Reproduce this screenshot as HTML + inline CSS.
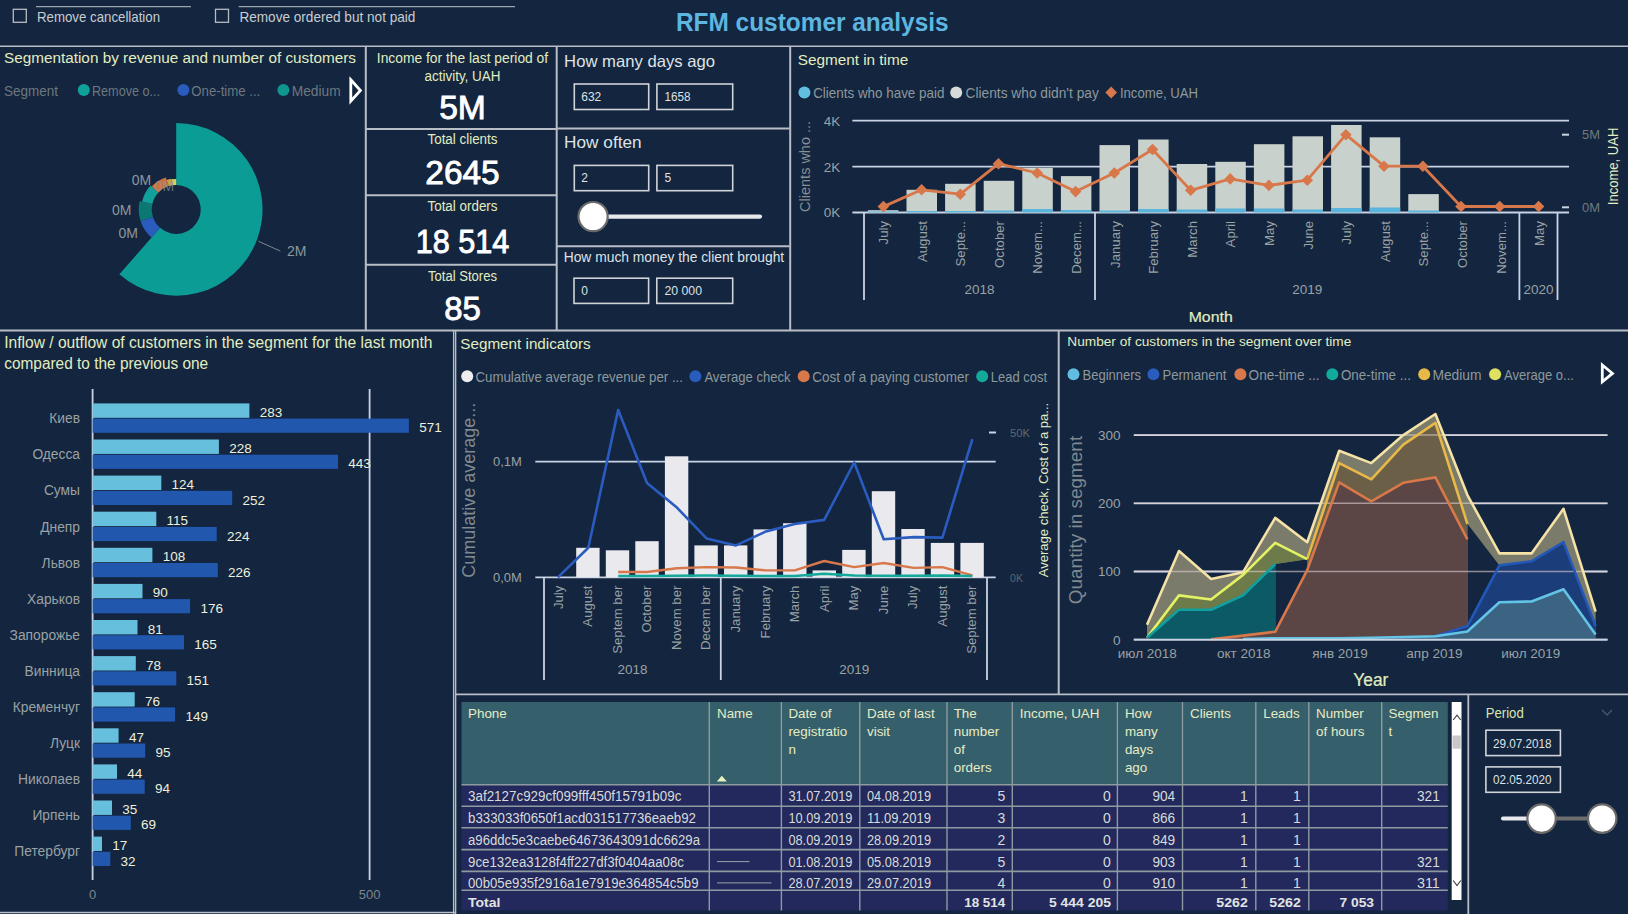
<!DOCTYPE html>
<html><head><meta charset="utf-8"><title>RFM customer analysis</title>
<style>
html,body{margin:0;padding:0;background:#13253f;}
body{width:1628px;height:914px;overflow:hidden;font-family:"Liberation Sans",sans-serif;}
svg{display:block;font-family:"Liberation Sans",sans-serif;}
</style></head><body>
<svg width="1628" height="914" viewBox="0 0 1628 914">
<rect width="1628" height="914" fill="#13253f"/>
<rect x="13.3" y="9.3" width="13.0" height="13.0" fill="none" stroke="#b8bcc2" stroke-width="1.3" /><line x1="36.0" y1="6.6" x2="191.0" y2="6.6" stroke="#9aa2aa" stroke-width="1.3" /><text x="37.0" y="22.0" font-size="14.8" fill="#c9cdd0" text-anchor="start" textLength="123.0" lengthAdjust="spacingAndGlyphs" >Remove cancellation</text><rect x="215.5" y="9.3" width="13.0" height="13.0" fill="none" stroke="#b8bcc2" stroke-width="1.3" /><line x1="238.7" y1="6.6" x2="515.0" y2="6.6" stroke="#9aa2aa" stroke-width="1.3" /><text x="239.4" y="22.0" font-size="14.8" fill="#c9cdd0" text-anchor="start" textLength="176.0" lengthAdjust="spacingAndGlyphs" >Remove ordered but not paid</text><text x="812.3" y="31.4" font-size="25" fill="#5cb6e0" text-anchor="middle" font-weight="bold" textLength="272.7" lengthAdjust="spacingAndGlyphs" >RFM customer analysis</text><line x1="0.0" y1="46.2" x2="1628.0" y2="46.2" stroke="#b9bec6" stroke-width="1.5" /><line x1="365.8" y1="46.0" x2="365.8" y2="330.5" stroke="#b9bec6" stroke-width="2" /><line x1="556.7" y1="47.0" x2="556.7" y2="330.5" stroke="#b9bec6" stroke-width="2" /><line x1="366.0" y1="129.0" x2="556.7" y2="129.0" stroke="#b9bec6" stroke-width="2" /><line x1="366.0" y1="195.3" x2="556.7" y2="195.3" stroke="#b9bec6" stroke-width="2" /><line x1="366.0" y1="264.8" x2="556.7" y2="264.8" stroke="#b9bec6" stroke-width="2" /><line x1="556.7" y1="128.4" x2="789.6" y2="128.4" stroke="#b9bec6" stroke-width="2" /><line x1="556.7" y1="246.3" x2="789.6" y2="246.3" stroke="#b9bec6" stroke-width="2" /><line x1="790.2" y1="46.0" x2="790.2" y2="330.5" stroke="#b9bec6" stroke-width="2" /><line x1="0.0" y1="330.6" x2="1628.0" y2="330.6" stroke="#b9bec6" stroke-width="2" /><line x1="453.6" y1="330.6" x2="453.6" y2="914.0" stroke="#b9bec6" stroke-width="1.3" /><line x1="455.6" y1="330.6" x2="455.6" y2="914.0" stroke="#b9bec6" stroke-width="1.5" /><line x1="1058.7" y1="330.6" x2="1058.7" y2="694.3" stroke="#b9bec6" stroke-width="2" /><line x1="455.6" y1="694.3" x2="1628.0" y2="694.3" stroke="#b9bec6" stroke-width="1.8" /><line x1="1468.3" y1="694.3" x2="1468.3" y2="914.0" stroke="#b9bec6" stroke-width="1.8" /><line x1="0.0" y1="912.5" x2="455.0" y2="912.5" stroke="#b9bec6" stroke-width="1.5" /><text x="4.0" y="63.3" font-size="15.3" fill="#e2edc0" text-anchor="start" textLength="352.0" lengthAdjust="spacingAndGlyphs" >Segmentation by revenue and number of customers</text><text x="4.0" y="95.6" font-size="15" fill="#6e787e" text-anchor="start" textLength="54.0" lengthAdjust="spacingAndGlyphs" >Segment</text><circle cx="83.8" cy="90.0" r="6.0" fill="#10a29a" /><text x="92.0" y="95.6" font-size="15" fill="#6e787e" text-anchor="start" textLength="68.0" lengthAdjust="spacingAndGlyphs" >Remove o...</text><circle cx="183.4" cy="90.0" r="6.0" fill="#2a5cbe" /><text x="191.3" y="95.6" font-size="15" fill="#6e787e" text-anchor="start" textLength="69.0" lengthAdjust="spacingAndGlyphs" >One-time ...</text><circle cx="283.4" cy="90.0" r="6.0" fill="#10958e" /><text x="291.7" y="95.6" font-size="15" fill="#6e787e" text-anchor="start" textLength="49.0" lengthAdjust="spacingAndGlyphs" >Medium</text><polygon points="350.8,79.8 360.4,90.5 350.8,101.2" fill="none" stroke="#ffffff" stroke-width="2.8"/><path d="M176.20,123.10 A86.3,86.3 0 1 1 119.36,274.33 L160.06,227.83 A24.5,24.5 0 1 0 176.20,184.90 Z" fill="#0c9c96"/><path d="M151.50,237.62 A37.5,37.5 0 0 1 140.54,220.99 L152.90,216.97 A24.5,24.5 0 0 0 160.06,227.83 Z" fill="#2a5cbe"/><path d="M140.54,220.99 A37.5,37.5 0 0 1 139.66,200.96 L152.33,203.89 A24.5,24.5 0 0 0 152.90,216.97 Z" fill="#0b7874"/><path d="M142.10,201.53 A35,35 0 0 1 150.60,185.53 L158.28,192.69 A24.5,24.5 0 0 0 152.33,203.89 Z" fill="#10a29a"/><path d="M151.70,186.55 A33.5,33.5 0 0 1 165.85,177.54 L168.63,186.10 A24.5,24.5 0 0 0 158.28,192.69 Z" fill="#d0703e"/><path d="M166.62,179.92 A31,31 0 0 1 171.35,178.78 L172.37,185.20 A24.5,24.5 0 0 0 168.63,186.10 Z" fill="#c8a050"/><path d="M171.43,179.28 A30.5,30.5 0 0 1 176.20,178.90 L176.20,184.90 A24.5,24.5 0 0 0 172.37,185.20 Z" fill="#d8d060"/><text x="141.4" y="185.0" font-size="14" fill="#8e979c" text-anchor="middle" >0M</text><text x="164.5" y="190.5" font-size="14" fill="#8e979c" text-anchor="middle" opacity="0.7">0M</text><text x="121.7" y="214.6" font-size="14" fill="#8e979c" text-anchor="middle" >0M</text><text x="128.3" y="237.5" font-size="14" fill="#8e979c" text-anchor="middle" >0M</text><line x1="258.5" y1="241.3" x2="280.4" y2="251.1" stroke="#7e878c" stroke-width="1" /><text x="296.8" y="256.1" font-size="14" fill="#8e979c" text-anchor="middle" >2M</text><text x="462.5" y="62.5" font-size="13.8" fill="#e2edc0" text-anchor="middle" textLength="171.3" lengthAdjust="spacingAndGlyphs" >Income for the last period of</text><text x="462.5" y="81.3" font-size="13.8" fill="#e2edc0" text-anchor="middle" textLength="76.0" lengthAdjust="spacingAndGlyphs" >activity, UAH</text><text x="462.5" y="118.8" font-size="34" fill="#ffffff" text-anchor="middle" textLength="46.7" lengthAdjust="spacingAndGlyphs" stroke="#ffffff" stroke-width="0.9">5M</text><text x="462.5" y="144.4" font-size="13.8" fill="#e2edc0" text-anchor="middle" textLength="70.0" lengthAdjust="spacingAndGlyphs" >Total clients</text><text x="462.5" y="183.6" font-size="34" fill="#ffffff" text-anchor="middle" textLength="74.4" lengthAdjust="spacingAndGlyphs" stroke="#ffffff" stroke-width="0.9">2645</text><text x="462.5" y="211.0" font-size="13.8" fill="#e2edc0" text-anchor="middle" textLength="70.0" lengthAdjust="spacingAndGlyphs" >Total orders</text><text x="462.5" y="252.8" font-size="34" fill="#ffffff" text-anchor="middle" textLength="93.6" lengthAdjust="spacingAndGlyphs" stroke="#ffffff" stroke-width="0.9">18 514</text><text x="462.5" y="281.4" font-size="13.8" fill="#e2edc0" text-anchor="middle" textLength="69.0" lengthAdjust="spacingAndGlyphs" >Total Stores</text><text x="462.5" y="320.3" font-size="34" fill="#ffffff" text-anchor="middle" textLength="36.6" lengthAdjust="spacingAndGlyphs" stroke="#ffffff" stroke-width="0.9">85</text><text x="564.1" y="66.9" font-size="16.5" fill="#dfe3e6" text-anchor="start" textLength="151.0" lengthAdjust="spacingAndGlyphs" >How many days ago</text><rect x="574.3" y="84.0" width="74.4" height="25.5" fill="none" stroke="#d0d4d8" stroke-width="1.6" /><rect x="656.9" y="84.0" width="75.8" height="25.5" fill="none" stroke="#d0d4d8" stroke-width="1.6" /><text x="581.3" y="101.3" font-size="12" fill="#dfe3e6" text-anchor="start" textLength="20.0" lengthAdjust="spacingAndGlyphs" >632</text><text x="664.5" y="101.3" font-size="12" fill="#dfe3e6" text-anchor="start" textLength="26.0" lengthAdjust="spacingAndGlyphs" >1658</text><text x="564.1" y="148.3" font-size="16.5" fill="#dfe3e6" text-anchor="start" textLength="77.5" lengthAdjust="spacingAndGlyphs" >How often</text><rect x="574.3" y="165.4" width="74.4" height="25.3" fill="none" stroke="#d0d4d8" stroke-width="1.6" /><rect x="656.9" y="165.4" width="75.8" height="25.3" fill="none" stroke="#d0d4d8" stroke-width="1.6" /><text x="581.3" y="182.3" font-size="12" fill="#dfe3e6" text-anchor="start" >2</text><text x="664.5" y="182.3" font-size="12" fill="#dfe3e6" text-anchor="start" >5</text><line x1="600" y1="216.6" x2="760" y2="216.6" stroke="#e6e8ec" stroke-width="4.2" stroke-linecap="round"/><circle cx="593.1" cy="216.6" r="14.6" fill="#ffffff" stroke="#6a6a6a" stroke-width="2.2"/><text x="563.7" y="262.4" font-size="14" fill="#dfe3e6" text-anchor="start" textLength="220.5" lengthAdjust="spacingAndGlyphs" >How much money the client brought</text><rect x="574.0" y="278.2" width="74.6" height="25.2" fill="none" stroke="#d0d4d8" stroke-width="1.6" /><rect x="656.8" y="278.2" width="75.9" height="25.2" fill="none" stroke="#d0d4d8" stroke-width="1.6" /><text x="581.3" y="295.3" font-size="12" fill="#dfe3e6" text-anchor="start" >0</text><text x="664.5" y="295.3" font-size="12" fill="#dfe3e6" text-anchor="start" textLength="37.5" lengthAdjust="spacingAndGlyphs" >20 000</text><text x="797.7" y="65.1" font-size="15.3" fill="#e2edc0" text-anchor="start" textLength="110.6" lengthAdjust="spacingAndGlyphs" >Segment in time</text><circle cx="804.4" cy="92.5" r="6.0" fill="#62bde0" /><text x="813.2" y="97.8" font-size="14.8" fill="#8e999c" text-anchor="start" textLength="131.2" lengthAdjust="spacingAndGlyphs" >Clients who have paid</text><circle cx="956.2" cy="92.5" r="6.0" fill="#d6dad8" /><text x="965.5" y="97.8" font-size="14.8" fill="#8e999c" text-anchor="start" textLength="133.3" lengthAdjust="spacingAndGlyphs" >Clients who didn't pay</text><polygon points="1111.2,86.5 1117.0,92.5 1111.2,98.5 1105.4,92.5" fill="#d8784a" /><text x="1119.9" y="97.8" font-size="14.8" fill="#8e999c" text-anchor="start" textLength="78.2" lengthAdjust="spacingAndGlyphs" >Income, UAH</text><line x1="852.4" y1="120.6" x2="1569.0" y2="120.6" stroke="#c9d3e3" stroke-width="1.8" /><text x="840.3" y="125.5" font-size="13.5" fill="#9aa2a4" text-anchor="end" >4K</text><line x1="852.4" y1="166.6" x2="1569.0" y2="166.6" stroke="#c9d3e3" stroke-width="1.8" /><text x="840.3" y="171.5" font-size="13.5" fill="#9aa2a4" text-anchor="end" >2K</text><line x1="852.4" y1="212.5" x2="1569.0" y2="212.5" stroke="#c9d3e3" stroke-width="1.8" /><text x="840.3" y="217.4" font-size="13.5" fill="#9aa2a4" text-anchor="end" >0K</text><text x="804.4" y="171.8" font-size="15" fill="#858f94" text-anchor="middle" textLength="91.0" lengthAdjust="spacingAndGlyphs" transform="rotate(-90 804.4 166.4)" >Clients who ...</text><rect x="867.9" y="210.2" width="30.5" height="2.3" fill="#c9d1cc" /><rect x="867.9" y="211.5" width="30.5" height="1.0" fill="#5ab4dc" /><rect x="906.5" y="189.8" width="30.5" height="22.7" fill="#c9d1cc" /><rect x="906.5" y="211.0" width="30.5" height="1.5" fill="#5ab4dc" /><rect x="945.1" y="183.8" width="30.5" height="28.7" fill="#c9d1cc" /><rect x="945.1" y="211.0" width="30.5" height="1.5" fill="#5ab4dc" /><rect x="983.7" y="180.8" width="30.5" height="31.7" fill="#c9d1cc" /><rect x="983.7" y="210.5" width="30.5" height="2.0" fill="#5ab4dc" /><rect x="1022.3" y="167.9" width="30.5" height="44.6" fill="#c9d1cc" /><rect x="1022.3" y="209.0" width="30.5" height="3.5" fill="#5ab4dc" /><rect x="1060.9" y="176.1" width="30.5" height="36.4" fill="#c9d1cc" /><rect x="1060.9" y="210.0" width="30.5" height="2.5" fill="#5ab4dc" /><rect x="1099.5" y="145.1" width="30.5" height="67.4" fill="#c9d1cc" /><rect x="1099.5" y="210.5" width="30.5" height="2.0" fill="#5ab4dc" /><rect x="1138.1" y="139.5" width="30.5" height="73.0" fill="#c9d1cc" /><rect x="1138.1" y="209.0" width="30.5" height="3.5" fill="#5ab4dc" /><rect x="1176.7" y="164.0" width="30.5" height="48.5" fill="#c9d1cc" /><rect x="1176.7" y="209.5" width="30.5" height="3.0" fill="#5ab4dc" /><rect x="1215.3" y="161.8" width="30.5" height="50.7" fill="#c9d1cc" /><rect x="1215.3" y="208.5" width="30.5" height="4.0" fill="#5ab4dc" /><rect x="1253.9" y="144.2" width="30.5" height="68.3" fill="#c9d1cc" /><rect x="1253.9" y="208.5" width="30.5" height="4.0" fill="#5ab4dc" /><rect x="1292.5" y="136.3" width="30.5" height="76.2" fill="#c9d1cc" /><rect x="1292.5" y="209.5" width="30.5" height="3.0" fill="#5ab4dc" /><rect x="1331.1" y="125.0" width="30.5" height="87.5" fill="#c9d1cc" /><rect x="1331.1" y="208.0" width="30.5" height="4.5" fill="#5ab4dc" /><rect x="1369.7" y="137.3" width="30.5" height="75.2" fill="#c9d1cc" /><rect x="1369.7" y="207.5" width="30.5" height="5.0" fill="#5ab4dc" /><rect x="1408.3" y="194.1" width="30.5" height="18.4" fill="#c9d1cc" /><rect x="1408.3" y="210.5" width="30.5" height="2.0" fill="#5ab4dc" /><polyline points="883.4,206.6 921.6,189.8 960.3,194.2 998.5,163.7 1037.2,173.0 1075.6,191.6 1114.3,173.0 1152.5,149.5 1190.7,190.3 1230.2,178.9 1268.9,185.4 1307.3,180.2 1345.9,134.7 1384.0,166.2 1422.9,166.2 1461.0,206.5 1499.7,206.5 1538.6,206.5" fill="none" stroke="#d8784a" stroke-width="2.8" stroke-linejoin="round" /><polygon points="883.4,200.8 889.2,206.6 883.4,212.4 877.6,206.6" fill="#d8784a" /><polygon points="921.6,184.0 927.4,189.8 921.6,195.6 915.8,189.8" fill="#d8784a" /><polygon points="960.3,188.4 966.1,194.2 960.3,200.0 954.5,194.2" fill="#d8784a" /><polygon points="998.5,157.9 1004.3,163.7 998.5,169.5 992.7,163.7" fill="#d8784a" /><polygon points="1037.2,167.2 1043.0,173.0 1037.2,178.8 1031.4,173.0" fill="#d8784a" /><polygon points="1075.6,185.8 1081.4,191.6 1075.6,197.4 1069.8,191.6" fill="#d8784a" /><polygon points="1114.3,167.2 1120.1,173.0 1114.3,178.8 1108.5,173.0" fill="#d8784a" /><polygon points="1152.5,143.7 1158.3,149.5 1152.5,155.3 1146.7,149.5" fill="#d8784a" /><polygon points="1190.7,184.5 1196.5,190.3 1190.7,196.1 1184.9,190.3" fill="#d8784a" /><polygon points="1230.2,173.1 1236.0,178.9 1230.2,184.7 1224.4,178.9" fill="#d8784a" /><polygon points="1268.9,179.6 1274.7,185.4 1268.9,191.2 1263.1,185.4" fill="#d8784a" /><polygon points="1307.3,174.4 1313.1,180.2 1307.3,186.0 1301.5,180.2" fill="#d8784a" /><polygon points="1345.9,128.9 1351.7,134.7 1345.9,140.5 1340.1,134.7" fill="#d8784a" /><polygon points="1384.0,160.4 1389.8,166.2 1384.0,172.0 1378.2,166.2" fill="#d8784a" /><polygon points="1422.9,160.4 1428.7,166.2 1422.9,172.0 1417.1,166.2" fill="#d8784a" /><polygon points="1461.0,200.7 1466.8,206.5 1461.0,212.3 1455.2,206.5" fill="#d8784a" /><polygon points="1499.7,200.7 1505.5,206.5 1499.7,212.3 1493.9,206.5" fill="#d8784a" /><polygon points="1538.6,200.7 1544.4,206.5 1538.6,212.3 1532.8,206.5" fill="#d8784a" /><line x1="1562.0" y1="134.7" x2="1569.0" y2="134.7" stroke="#c9d3e3" stroke-width="2" /><text x="1582.0" y="139.4" font-size="13" fill="#6f797e" text-anchor="start" textLength="18.0" lengthAdjust="spacingAndGlyphs" >5M</text><line x1="1562.0" y1="207.3" x2="1569.0" y2="207.3" stroke="#c9d3e3" stroke-width="2" /><text x="1582.0" y="212.0" font-size="13" fill="#6f797e" text-anchor="start" textLength="18.0" lengthAdjust="spacingAndGlyphs" >0M</text><text x="1612.7" y="171.6" font-size="14.5" fill="#e2edc0" text-anchor="middle" textLength="77.6" lengthAdjust="spacingAndGlyphs" transform="rotate(-90 1612.7 166.4)" >Income, UAH</text><line x1="864.0" y1="213.0" x2="864.0" y2="300.0" stroke="#c9d3e3" stroke-width="1.8" /><line x1="1095.0" y1="213.0" x2="1095.0" y2="300.0" stroke="#c9d3e3" stroke-width="1.8" /><line x1="1519.4" y1="213.0" x2="1519.4" y2="300.0" stroke="#c9d3e3" stroke-width="1.8" /><line x1="1557.5" y1="213.0" x2="1557.5" y2="300.0" stroke="#c9d3e3" stroke-width="1.8" /><text transform="translate(887.9 221) rotate(-90)" font-size="13.2" fill="#9aa2a4" text-anchor="end">July</text><text transform="translate(926.5 221) rotate(-90)" font-size="13.2" fill="#9aa2a4" text-anchor="end">August</text><text transform="translate(965.1 221) rotate(-90)" font-size="13.2" fill="#9aa2a4" text-anchor="end">Septe...</text><text transform="translate(1003.7 221) rotate(-90)" font-size="13.2" fill="#9aa2a4" text-anchor="end">October</text><text transform="translate(1042.3 221) rotate(-90)" font-size="13.2" fill="#9aa2a4" text-anchor="end">Novem...</text><text transform="translate(1080.9 221) rotate(-90)" font-size="13.2" fill="#9aa2a4" text-anchor="end">Decem...</text><text transform="translate(1119.5 221) rotate(-90)" font-size="13.2" fill="#9aa2a4" text-anchor="end">January</text><text transform="translate(1158.1 221) rotate(-90)" font-size="13.2" fill="#9aa2a4" text-anchor="end">February</text><text transform="translate(1196.7 221) rotate(-90)" font-size="13.2" fill="#9aa2a4" text-anchor="end">March</text><text transform="translate(1235.3 221) rotate(-90)" font-size="13.2" fill="#9aa2a4" text-anchor="end">April</text><text transform="translate(1273.9 221) rotate(-90)" font-size="13.2" fill="#9aa2a4" text-anchor="end">May</text><text transform="translate(1312.5 221) rotate(-90)" font-size="13.2" fill="#9aa2a4" text-anchor="end">June</text><text transform="translate(1351.1 221) rotate(-90)" font-size="13.2" fill="#9aa2a4" text-anchor="end">July</text><text transform="translate(1389.7 221) rotate(-90)" font-size="13.2" fill="#9aa2a4" text-anchor="end">August</text><text transform="translate(1428.3 221) rotate(-90)" font-size="13.2" fill="#9aa2a4" text-anchor="end">Septe...</text><text transform="translate(1466.9 221) rotate(-90)" font-size="13.2" fill="#9aa2a4" text-anchor="end">October</text><text transform="translate(1505.5 221) rotate(-90)" font-size="13.2" fill="#9aa2a4" text-anchor="end">Novem...</text><text transform="translate(1544.1 221) rotate(-90)" font-size="13.2" fill="#9aa2a4" text-anchor="end">May</text><text x="979.6" y="294.2" font-size="13.5" fill="#9aa2a4" text-anchor="middle" >2018</text><text x="1307.3" y="294.2" font-size="13.5" fill="#9aa2a4" text-anchor="middle" >2019</text><text x="1538.6" y="294.2" font-size="13.5" fill="#9aa2a4" text-anchor="middle" >2020</text><text x="1210.7" y="321.9" font-size="14.8" fill="#e2edc0" text-anchor="middle" textLength="44.0" lengthAdjust="spacingAndGlyphs" stroke="#e2edc0" stroke-width="0.2">Month</text><text x="4.2" y="348.4" font-size="15.6" fill="#e2edc0" text-anchor="start" textLength="428.3" lengthAdjust="spacingAndGlyphs" >Inflow / outflow of customers in the segment for the last month</text><text x="4.2" y="368.8" font-size="15.6" fill="#e2edc0" text-anchor="start" textLength="204.0" lengthAdjust="spacingAndGlyphs" >compared to the previous one</text><line x1="92.6" y1="389.0" x2="92.6" y2="880.0" stroke="#c9d3e3" stroke-width="1.8" /><line x1="369.6" y1="389.0" x2="369.6" y2="880.0" stroke="#c9d3e3" stroke-width="1.8" /><text x="92.6" y="898.7" font-size="13" fill="#7d868b" text-anchor="middle" >0</text><text x="369.6" y="898.7" font-size="13" fill="#7d868b" text-anchor="middle" >500</text><rect x="92.6" y="403.4" width="156.8" height="14.4" fill="#66bfdc" /><rect x="92.6" y="418.6" width="316.3" height="14.2" fill="#2257ae" /><text x="80.0" y="423.2" font-size="13.8" fill="#9aa2a4" text-anchor="end" >Киев</text><text x="259.7" y="416.9" font-size="13.5" fill="#eef0dc" text-anchor="start" >283</text><text x="419.2" y="432.3" font-size="13.5" fill="#eef0dc" text-anchor="start" >571</text><rect x="92.6" y="439.5" width="126.3" height="14.4" fill="#66bfdc" /><rect x="92.6" y="454.7" width="245.4" height="14.2" fill="#2257ae" /><text x="80.0" y="459.3" font-size="13.8" fill="#9aa2a4" text-anchor="end" >Одесса</text><text x="229.2" y="453.0" font-size="13.5" fill="#eef0dc" text-anchor="start" >228</text><text x="348.3" y="468.4" font-size="13.5" fill="#eef0dc" text-anchor="start" >443</text><rect x="92.6" y="475.6" width="68.7" height="14.4" fill="#66bfdc" /><rect x="92.6" y="490.8" width="139.6" height="14.2" fill="#2257ae" /><text x="80.0" y="495.4" font-size="13.8" fill="#9aa2a4" text-anchor="end" >Сумы</text><text x="171.6" y="489.1" font-size="13.5" fill="#eef0dc" text-anchor="start" >124</text><text x="242.5" y="504.5" font-size="13.5" fill="#eef0dc" text-anchor="start" >252</text><rect x="92.6" y="511.7" width="63.7" height="14.4" fill="#66bfdc" /><rect x="92.6" y="526.9" width="124.1" height="14.2" fill="#2257ae" /><text x="80.0" y="531.5" font-size="13.8" fill="#9aa2a4" text-anchor="end" >Днепр</text><text x="166.6" y="525.2" font-size="13.5" fill="#eef0dc" text-anchor="start" >115</text><text x="227.0" y="540.6" font-size="13.5" fill="#eef0dc" text-anchor="start" >224</text><rect x="92.6" y="547.8" width="59.8" height="14.4" fill="#66bfdc" /><rect x="92.6" y="563.0" width="125.2" height="14.2" fill="#2257ae" /><text x="80.0" y="567.6" font-size="13.8" fill="#9aa2a4" text-anchor="end" >Львов</text><text x="162.7" y="561.3" font-size="13.5" fill="#eef0dc" text-anchor="start" >108</text><text x="228.1" y="576.7" font-size="13.5" fill="#eef0dc" text-anchor="start" >226</text><rect x="92.6" y="583.9" width="49.9" height="14.4" fill="#66bfdc" /><rect x="92.6" y="599.1" width="97.5" height="14.2" fill="#2257ae" /><text x="80.0" y="603.7" font-size="13.8" fill="#9aa2a4" text-anchor="end" >Харьков</text><text x="152.8" y="597.4" font-size="13.5" fill="#eef0dc" text-anchor="start" >90</text><text x="200.4" y="612.8" font-size="13.5" fill="#eef0dc" text-anchor="start" >176</text><rect x="92.6" y="620.0" width="44.9" height="14.4" fill="#66bfdc" /><rect x="92.6" y="635.2" width="91.4" height="14.2" fill="#2257ae" /><text x="80.0" y="639.8" font-size="13.8" fill="#9aa2a4" text-anchor="end" >Запорожье</text><text x="147.8" y="633.5" font-size="13.5" fill="#eef0dc" text-anchor="start" >81</text><text x="194.3" y="648.9" font-size="13.5" fill="#eef0dc" text-anchor="start" >165</text><rect x="92.6" y="656.1" width="43.2" height="14.4" fill="#66bfdc" /><rect x="92.6" y="671.3" width="83.7" height="14.2" fill="#2257ae" /><text x="80.0" y="675.9" font-size="13.8" fill="#9aa2a4" text-anchor="end" >Винница</text><text x="146.1" y="669.6" font-size="13.5" fill="#eef0dc" text-anchor="start" >78</text><text x="186.6" y="685.0" font-size="13.5" fill="#eef0dc" text-anchor="start" >151</text><rect x="92.6" y="692.2" width="42.1" height="14.4" fill="#66bfdc" /><rect x="92.6" y="707.4" width="82.5" height="14.2" fill="#2257ae" /><text x="80.0" y="712.0" font-size="13.8" fill="#9aa2a4" text-anchor="end" >Кременчуг</text><text x="145.0" y="705.7" font-size="13.5" fill="#eef0dc" text-anchor="start" >76</text><text x="185.4" y="721.1" font-size="13.5" fill="#eef0dc" text-anchor="start" >149</text><rect x="92.6" y="728.3" width="26.0" height="14.4" fill="#66bfdc" /><rect x="92.6" y="743.5" width="52.6" height="14.2" fill="#2257ae" /><text x="80.0" y="748.1" font-size="13.8" fill="#9aa2a4" text-anchor="end" >Луцк</text><text x="128.9" y="741.8" font-size="13.5" fill="#eef0dc" text-anchor="start" >47</text><text x="155.5" y="757.2" font-size="13.5" fill="#eef0dc" text-anchor="start" >95</text><rect x="92.6" y="764.4" width="24.4" height="14.4" fill="#66bfdc" /><rect x="92.6" y="779.6" width="52.1" height="14.2" fill="#2257ae" /><text x="80.0" y="784.2" font-size="13.8" fill="#9aa2a4" text-anchor="end" >Николаев</text><text x="127.3" y="777.9" font-size="13.5" fill="#eef0dc" text-anchor="start" >44</text><text x="155.0" y="793.3" font-size="13.5" fill="#eef0dc" text-anchor="start" >94</text><rect x="92.6" y="800.5" width="19.4" height="14.4" fill="#66bfdc" /><rect x="92.6" y="815.7" width="38.2" height="14.2" fill="#2257ae" /><text x="80.0" y="820.3" font-size="13.8" fill="#9aa2a4" text-anchor="end" >Ирпень</text><text x="122.3" y="814.0" font-size="13.5" fill="#eef0dc" text-anchor="start" >35</text><text x="141.1" y="829.4" font-size="13.5" fill="#eef0dc" text-anchor="start" >69</text><rect x="92.6" y="836.6" width="9.4" height="14.4" fill="#66bfdc" /><rect x="92.6" y="851.8" width="17.7" height="14.2" fill="#2257ae" /><text x="80.0" y="856.4" font-size="13.8" fill="#9aa2a4" text-anchor="end" >Петербург</text><text x="112.3" y="850.1" font-size="13.5" fill="#eef0dc" text-anchor="start" >17</text><text x="120.6" y="865.5" font-size="13.5" fill="#eef0dc" text-anchor="start" >32</text><text x="460.3" y="349.0" font-size="15.2" fill="#e2edc0" text-anchor="start" textLength="130.4" lengthAdjust="spacingAndGlyphs" >Segment indicators</text><circle cx="467.2" cy="376.3" r="6.0" fill="#eeeeee" /><text x="475.4" y="381.6" font-size="14.8" fill="#8e999c" text-anchor="start" textLength="207.6" lengthAdjust="spacingAndGlyphs" >Cumulative average revenue per ...</text><circle cx="695.4" cy="376.3" r="6.0" fill="#2a5cbe" /><text x="704.4" y="381.6" font-size="14.8" fill="#8e999c" text-anchor="start" textLength="86.2" lengthAdjust="spacingAndGlyphs" >Average check</text><circle cx="803.7" cy="376.3" r="6.0" fill="#d8784a" /><text x="812.3" y="381.6" font-size="14.8" fill="#8e999c" text-anchor="start" textLength="156.7" lengthAdjust="spacingAndGlyphs" >Cost of a paying customer</text><circle cx="982.2" cy="376.3" r="6.0" fill="#12a89a" /><text x="990.8" y="381.6" font-size="14.8" fill="#8e999c" text-anchor="start" textLength="56.2" lengthAdjust="spacingAndGlyphs" >Lead cost</text><line x1="535.3" y1="461.6" x2="995.7" y2="461.6" stroke="#c9d3e3" stroke-width="1.8" /><text x="521.8" y="466.3" font-size="13" fill="#9aa2a4" text-anchor="end" textLength="28.8" lengthAdjust="spacingAndGlyphs" >0,1M</text><line x1="535.3" y1="577.4" x2="995.7" y2="577.4" stroke="#c9d3e3" stroke-width="1.8" /><text x="521.8" y="582.1" font-size="13" fill="#9aa2a4" text-anchor="end" textLength="28.8" lengthAdjust="spacingAndGlyphs" >0,0M</text><text x="469.0" y="496.8" font-size="18" fill="#7f898e" text-anchor="middle" textLength="175.0" lengthAdjust="spacingAndGlyphs" transform="rotate(-90 469.0 490.3)" >Cumulative average...</text><text x="1043.0" y="494.7" font-size="13" fill="#e2edc0" text-anchor="middle" textLength="174.4" lengthAdjust="spacingAndGlyphs" transform="rotate(-90 1043.0 490.0)" >Average check, Cost of a pa...</text><line x1="989.0" y1="432.5" x2="996.0" y2="432.5" stroke="#c9d3e3" stroke-width="2" /><text x="1010.0" y="436.6" font-size="11.5" fill="#5f696e" text-anchor="start" textLength="20.0" lengthAdjust="spacingAndGlyphs" >50K</text><text x="1010.0" y="582.1" font-size="11.5" fill="#5f696e" text-anchor="start" textLength="13.0" lengthAdjust="spacingAndGlyphs" >0K</text><rect x="576.2" y="547.8" width="23.4" height="29.6" fill="#e9e9ee" /><rect x="605.8" y="550.3" width="23.4" height="27.1" fill="#e9e9ee" /><rect x="635.3" y="541.2" width="23.4" height="36.2" fill="#e9e9ee" /><rect x="664.9" y="456.3" width="23.4" height="121.1" fill="#e9e9ee" /><rect x="694.4" y="545.4" width="23.4" height="32.0" fill="#e9e9ee" /><rect x="724.0" y="545.4" width="23.4" height="32.0" fill="#e9e9ee" /><rect x="753.5" y="529.4" width="23.4" height="48.0" fill="#e9e9ee" /><rect x="783.1" y="523.2" width="23.4" height="54.2" fill="#e9e9ee" /><rect x="812.6" y="570.4" width="23.4" height="7.0" fill="#e9e9ee" /><rect x="842.2" y="549.9" width="23.4" height="27.5" fill="#e9e9ee" /><rect x="871.8" y="491.2" width="23.4" height="86.2" fill="#e9e9ee" /><rect x="901.3" y="529.0" width="23.4" height="48.4" fill="#e9e9ee" /><rect x="930.8" y="542.9" width="23.4" height="34.5" fill="#e9e9ee" /><rect x="960.4" y="542.9" width="23.4" height="34.5" fill="#e9e9ee" /><polyline points="557.9,577.4 588.3,547.8 618.2,409.9 647.0,483.0 676.9,507.6 706.5,538.4 736.0,545.4 766.0,531.4 794.7,524.0 824.2,519.9 854.2,462.5 883.7,539.2 913.7,537.1 942.4,537.6 972.4,439.1" fill="none" stroke="#2a5cc0" stroke-width="2.6" stroke-linejoin="round" /><polyline points="618.2,572.0 647.0,572.0 676.9,568.3 706.5,567.1 736.0,567.5 766.0,570.4 794.7,570.4 824.2,561.0 854.2,567.1 883.7,563.0 913.7,567.9 942.4,567.1 972.4,575.3" fill="none" stroke="#d8784a" stroke-width="2.4" stroke-linejoin="round" /><polyline points="618.2,576.0 647.0,576.0 676.9,575.8 706.5,575.5 736.0,575.8 766.0,576.0 794.7,576.0 824.2,573.8 854.2,575.5 883.7,575.8 913.7,575.8 942.4,575.5 972.4,576.0" fill="none" stroke="#12a89a" stroke-width="2.4" stroke-linejoin="round" /><line x1="544.0" y1="578.0" x2="544.0" y2="680.0" stroke="#c9d3e3" stroke-width="1.8" /><line x1="720.8" y1="578.0" x2="720.8" y2="680.0" stroke="#c9d3e3" stroke-width="1.8" /><line x1="987.0" y1="578.0" x2="987.0" y2="680.0" stroke="#c9d3e3" stroke-width="1.8" /><text transform="translate(562.7 585.6) rotate(-90)" font-size="13.2" fill="#9aa2a4" text-anchor="end">July</text><text transform="translate(592.2 585.6) rotate(-90)" font-size="13.2" fill="#9aa2a4" text-anchor="end">August</text><text transform="translate(621.8 585.6) rotate(-90)" font-size="13.2" fill="#9aa2a4" text-anchor="end">Septem ber</text><text transform="translate(651.3 585.6) rotate(-90)" font-size="13.2" fill="#9aa2a4" text-anchor="end">October</text><text transform="translate(680.9 585.6) rotate(-90)" font-size="13.2" fill="#9aa2a4" text-anchor="end">Novem ber</text><text transform="translate(710.4 585.6) rotate(-90)" font-size="13.2" fill="#9aa2a4" text-anchor="end">Decem ber</text><text transform="translate(740.0 585.6) rotate(-90)" font-size="13.2" fill="#9aa2a4" text-anchor="end">January</text><text transform="translate(769.5 585.6) rotate(-90)" font-size="13.2" fill="#9aa2a4" text-anchor="end">February</text><text transform="translate(799.1 585.6) rotate(-90)" font-size="13.2" fill="#9aa2a4" text-anchor="end">March</text><text transform="translate(828.6 585.6) rotate(-90)" font-size="13.2" fill="#9aa2a4" text-anchor="end">April</text><text transform="translate(858.2 585.6) rotate(-90)" font-size="13.2" fill="#9aa2a4" text-anchor="end">May</text><text transform="translate(887.8 585.6) rotate(-90)" font-size="13.2" fill="#9aa2a4" text-anchor="end">June</text><text transform="translate(917.3 585.6) rotate(-90)" font-size="13.2" fill="#9aa2a4" text-anchor="end">July</text><text transform="translate(946.8 585.6) rotate(-90)" font-size="13.2" fill="#9aa2a4" text-anchor="end">August</text><text transform="translate(976.4 585.6) rotate(-90)" font-size="13.2" fill="#9aa2a4" text-anchor="end">Septem ber</text><text x="632.6" y="673.9" font-size="13.5" fill="#9aa2a4" text-anchor="middle" >2018</text><text x="854.2" y="673.9" font-size="13.5" fill="#9aa2a4" text-anchor="middle" >2019</text><text x="1067.3" y="346.3" font-size="13.7" fill="#e2edc0" text-anchor="start" textLength="284.0" lengthAdjust="spacingAndGlyphs" >Number of customers in the segment over time</text><circle cx="1073.5" cy="374.2" r="6.0" fill="#62bde0" /><text x="1082.5" y="379.5" font-size="14.8" fill="#8e999c" text-anchor="start" textLength="58.6" lengthAdjust="spacingAndGlyphs" >Beginners</text><circle cx="1153.4" cy="374.2" r="6.0" fill="#2a5cbe" /><text x="1162.5" y="379.5" font-size="14.8" fill="#8e999c" text-anchor="start" textLength="64.0" lengthAdjust="spacingAndGlyphs" >Permanent</text><circle cx="1240.4" cy="374.2" r="6.0" fill="#d8784a" /><text x="1248.6" y="379.5" font-size="14.8" fill="#8e999c" text-anchor="start" textLength="71.0" lengthAdjust="spacingAndGlyphs" >One-time ...</text><circle cx="1332.3" cy="374.2" r="6.0" fill="#12a89a" /><text x="1340.9" y="379.5" font-size="14.8" fill="#8e999c" text-anchor="start" textLength="70.0" lengthAdjust="spacingAndGlyphs" >One-time ...</text><circle cx="1424.2" cy="374.2" r="6.0" fill="#e8b848" /><text x="1432.4" y="379.5" font-size="14.8" fill="#8e999c" text-anchor="start" textLength="49.2" lengthAdjust="spacingAndGlyphs" >Medium</text><circle cx="1495.1" cy="374.2" r="6.0" fill="#e0e060" /><text x="1504.1" y="379.5" font-size="14.8" fill="#8e999c" text-anchor="start" textLength="69.8" lengthAdjust="spacingAndGlyphs" >Average o...</text><polygon points="1602.3,365 1612.5,373.4 1602.3,381.8" fill="none" stroke="#ffffff" stroke-width="2.8"/><line x1="1133.8" y1="435.1" x2="1607.5" y2="435.1" stroke="#c9d3e3" stroke-width="1.8" /><text x="1120.6" y="440.0" font-size="13.5" fill="#9aa2a4" text-anchor="end" >300</text><line x1="1133.8" y1="503.3" x2="1607.5" y2="503.3" stroke="#c9d3e3" stroke-width="1.8" /><text x="1120.6" y="508.2" font-size="13.5" fill="#9aa2a4" text-anchor="end" >200</text><line x1="1133.8" y1="571.5" x2="1607.5" y2="571.5" stroke="#c9d3e3" stroke-width="1.8" /><text x="1120.6" y="576.4" font-size="13.5" fill="#9aa2a4" text-anchor="end" >100</text><line x1="1133.8" y1="639.7" x2="1607.5" y2="639.7" stroke="#c9d3e3" stroke-width="1.8" /><text x="1120.6" y="644.6" font-size="13.5" fill="#9aa2a4" text-anchor="end" >0</text><text x="1075.5" y="526.5" font-size="18" fill="#7f898e" text-anchor="middle" textLength="168.3" lengthAdjust="spacingAndGlyphs" transform="rotate(-90 1075.5 520.0)" >Quantity in segment</text><text x="1147.3" y="658.0" font-size="13.5" fill="#9aa2a4" text-anchor="middle" >июл 2018</text><text x="1243.7" y="658.0" font-size="13.5" fill="#9aa2a4" text-anchor="middle" >окт 2018</text><text x="1340.0" y="658.0" font-size="13.5" fill="#9aa2a4" text-anchor="middle" >янв 2019</text><text x="1434.4" y="658.0" font-size="13.5" fill="#9aa2a4" text-anchor="middle" >апр 2019</text><text x="1530.8" y="658.0" font-size="13.5" fill="#9aa2a4" text-anchor="middle" >июл 2019</text><text x="1370.8" y="685.5" font-size="17.5" fill="#e2edc0" text-anchor="middle" textLength="35.0" lengthAdjust="spacingAndGlyphs" stroke="#e2edc0" stroke-width="0.2">Year</text><polygon points="1147.0,624.7 1179.0,551.0 1211.1,579.0 1243.1,572.2 1275.2,517.9 1307.2,542.2 1339.2,450.8 1371.3,463.1 1403.3,435.1 1435.4,414.0 1467.4,495.1 1499.4,553.4 1531.5,553.4 1563.5,508.8 1595.6,611.7 1595.6,639.7 1147.0,639.7" fill="#7a7b6b" /><polygon points="1275.2,564.0 1307.2,559.2 1307.2,639.7 1275.2,639.7" fill="#13253f" /><polygon points="1467.4,523.8 1499.4,565.4 1499.4,639.7 1467.4,639.7" fill="#13253f" /><polygon points="1307.2,559.2 1339.2,463.1 1371.3,479.4 1403.3,444.6 1435.4,422.8 1467.4,523.8 1467.4,639.7 1307.2,639.7" fill="#6b6047" /><polygon points="1147.0,637.7 1179.0,595.4 1211.1,599.5 1243.1,574.9 1275.2,542.9 1307.2,559.2 1275.2,564.0 1275.2,639.7 1147.0,639.7" fill="#6d7a4a" /><polygon points="1147.0,637.7 1179.0,609.7 1211.1,609.7 1243.1,595.4 1275.2,564.0 1275.2,639.7 1147.0,639.7" fill="#0c5a66" /><polygon points="1211.1,639.4 1243.1,635.6 1275.2,631.8 1307.2,570.1 1339.2,482.4 1371.3,501.3 1403.3,482.8 1435.4,477.4 1467.4,539.4 1467.4,639.7 1211.1,639.7" fill="#5b4545" /><polygon points="1435.4,636.3 1467.4,626.1 1499.4,565.4 1531.5,561.3 1563.5,542.2 1595.6,626.1 1595.6,639.7 1435.4,639.7" fill="#1b3d7a" /><polygon points="1243.1,639.0 1275.2,638.3 1307.2,638.3 1339.2,638.3 1371.3,637.7 1403.3,637.0 1435.4,636.3 1467.4,631.5 1499.4,602.2 1531.5,601.5 1563.5,589.2 1595.6,634.6 1595.6,639.7 1243.1,639.7" fill="#3a6482" /><line x1="1133.8" y1="435.1" x2="1607.5" y2="435.1" stroke="#e0d0d0" stroke-width="1.5" opacity="0.6"/><line x1="1133.8" y1="503.3" x2="1607.5" y2="503.3" stroke="#e0d0d0" stroke-width="1.5" opacity="0.6"/><line x1="1133.8" y1="571.5" x2="1607.5" y2="571.5" stroke="#e0d0d0" stroke-width="1.5" opacity="0.6"/><polyline points="1147.0,624.7 1179.0,551.0 1211.1,579.0 1243.1,572.2 1275.2,517.9 1307.2,542.2 1339.2,450.8 1371.3,463.1 1403.3,435.1 1435.4,414.0 1467.4,495.1 1499.4,553.4 1531.5,553.4 1563.5,508.8 1595.6,611.7" fill="none" stroke="#f4e2a6" stroke-width="2.6" stroke-linejoin="round" /><polyline points="1307.2,559.2 1339.2,463.1 1371.3,479.4 1403.3,444.6 1435.4,422.8 1467.4,523.8" fill="none" stroke="#e8b848" stroke-width="2.6" stroke-linejoin="round" /><polyline points="1211.1,639.4 1243.1,635.6 1275.2,631.8 1307.2,570.1 1339.2,482.4 1371.3,501.3 1403.3,482.8 1435.4,477.4 1467.4,539.4" fill="none" stroke="#d8784a" stroke-width="2.6" stroke-linejoin="round" /><polyline points="1147.0,637.7 1179.0,595.4 1211.1,599.5 1243.1,574.9 1275.2,542.9 1307.2,559.2" fill="none" stroke="#e2f264" stroke-width="2.6" stroke-linejoin="round" /><polyline points="1147.0,637.7 1179.0,609.7 1211.1,609.7 1243.1,595.4 1275.2,564.0" fill="none" stroke="#10a0a0" stroke-width="2.6" stroke-linejoin="round" /><polyline points="1435.4,636.3 1467.4,626.1 1499.4,565.4 1531.5,561.3 1563.5,542.2 1595.6,626.1" fill="none" stroke="#2458b8" stroke-width="2.6" stroke-linejoin="round" /><polyline points="1243.1,639.0 1275.2,638.3 1307.2,638.3 1339.2,638.3 1371.3,637.7 1403.3,637.0 1435.4,636.3 1467.4,631.5 1499.4,602.2 1531.5,601.5 1563.5,589.2 1595.6,634.6" fill="none" stroke="#64c4e6" stroke-width="2.6" stroke-linejoin="round" /><line x1="1133.8" y1="639.7" x2="1607.5" y2="639.7" stroke="#c9d3e3" stroke-width="1.8" /><rect x="461.5" y="702.0" width="986.3" height="83.0" fill="#355f6a" /><rect x="461.5" y="785.0" width="986.3" height="125.5" fill="#23295c" /><line x1="461.5" y1="784.8" x2="1447.8" y2="784.8" stroke="#8d9ba1" stroke-width="1.6" /><line x1="461.5" y1="806.3" x2="1447.8" y2="806.3" stroke="#8d9ba1" stroke-width="1.6" /><line x1="461.5" y1="827.8" x2="1447.8" y2="827.8" stroke="#8d9ba1" stroke-width="1.6" /><line x1="461.5" y1="849.6" x2="1447.8" y2="849.6" stroke="#8d9ba1" stroke-width="1.6" /><line x1="461.5" y1="871.4" x2="1447.8" y2="871.4" stroke="#8d9ba1" stroke-width="1.6" /><line x1="461.5" y1="890.3" x2="1447.8" y2="890.3" stroke="#8d9ba1" stroke-width="1.6" /><line x1="709.3" y1="702.0" x2="709.3" y2="910.5" stroke="#8d9ba1" stroke-width="1.4" /><line x1="781.4" y1="702.0" x2="781.4" y2="910.5" stroke="#8d9ba1" stroke-width="1.4" /><line x1="859.8" y1="702.0" x2="859.8" y2="910.5" stroke="#8d9ba1" stroke-width="1.4" /><line x1="947.0" y1="702.0" x2="947.0" y2="910.5" stroke="#8d9ba1" stroke-width="1.4" /><line x1="1012.3" y1="702.0" x2="1012.3" y2="910.5" stroke="#8d9ba1" stroke-width="1.4" /><line x1="1117.4" y1="702.0" x2="1117.4" y2="910.5" stroke="#8d9ba1" stroke-width="1.4" /><line x1="1182.5" y1="702.0" x2="1182.5" y2="910.5" stroke="#8d9ba1" stroke-width="1.4" /><line x1="1255.8" y1="702.0" x2="1255.8" y2="910.5" stroke="#8d9ba1" stroke-width="1.4" /><line x1="1308.8" y1="702.0" x2="1308.8" y2="910.5" stroke="#8d9ba1" stroke-width="1.4" /><line x1="1381.7" y1="702.0" x2="1381.7" y2="910.5" stroke="#8d9ba1" stroke-width="1.4" /><text x="468.0" y="718.1" font-size="13.4" fill="#e6ecc6" text-anchor="start" >Phone</text><text x="717.0" y="718.1" font-size="13.4" fill="#e6ecc6" text-anchor="start" >Name</text><text x="788.4" y="718.1" font-size="13.4" fill="#e6ecc6" text-anchor="start" >Date of</text><text x="788.4" y="736.2" font-size="13.4" fill="#e6ecc6" text-anchor="start" >registratio</text><text x="788.4" y="754.3" font-size="13.4" fill="#e6ecc6" text-anchor="start" >n</text><text x="867.0" y="718.1" font-size="13.4" fill="#e6ecc6" text-anchor="start" >Date of last</text><text x="867.0" y="736.2" font-size="13.4" fill="#e6ecc6" text-anchor="start" >visit</text><text x="953.7" y="718.1" font-size="13.4" fill="#e6ecc6" text-anchor="start" >The</text><text x="953.7" y="736.2" font-size="13.4" fill="#e6ecc6" text-anchor="start" >number</text><text x="953.7" y="754.3" font-size="13.4" fill="#e6ecc6" text-anchor="start" >of</text><text x="953.7" y="772.4" font-size="13.4" fill="#e6ecc6" text-anchor="start" >orders</text><text x="1019.8" y="718.1" font-size="13.4" fill="#e6ecc6" text-anchor="start" >Income, UAH</text><text x="1124.9" y="718.1" font-size="13.4" fill="#e6ecc6" text-anchor="start" >How</text><text x="1124.9" y="736.2" font-size="13.4" fill="#e6ecc6" text-anchor="start" >many</text><text x="1124.9" y="754.3" font-size="13.4" fill="#e6ecc6" text-anchor="start" >days</text><text x="1124.9" y="772.4" font-size="13.4" fill="#e6ecc6" text-anchor="start" >ago</text><text x="1190.0" y="718.1" font-size="13.4" fill="#e6ecc6" text-anchor="start" >Clients</text><text x="1263.2" y="718.1" font-size="13.4" fill="#e6ecc6" text-anchor="start" >Leads</text><text x="1316.0" y="718.1" font-size="13.4" fill="#e6ecc6" text-anchor="start" >Number</text><text x="1316.0" y="736.2" font-size="13.4" fill="#e6ecc6" text-anchor="start" >of hours</text><text x="1388.6" y="718.1" font-size="13.4" fill="#e6ecc6" text-anchor="start" >Segmen</text><text x="1388.6" y="736.2" font-size="13.4" fill="#e6ecc6" text-anchor="start" >t</text><polygon points="716.8,781.4 726.8,781.4 721.8,775.8" fill="#e8f0c0" /><text x="468.0" y="801.4" font-size="14" fill="#d6dbd9" text-anchor="start" textLength="213.4" lengthAdjust="spacingAndGlyphs" >3af2127c929cf099fff450f15791b09c</text><text x="788.4" y="801.4" font-size="14" fill="#d6dbd9" text-anchor="start" textLength="64.0" lengthAdjust="spacingAndGlyphs" >31.07.2019</text><text x="867.0" y="801.4" font-size="14" fill="#d6dbd9" text-anchor="start" textLength="64.0" lengthAdjust="spacingAndGlyphs" >04.08.2019</text><text x="1005.2" y="801.4" font-size="14" fill="#d6dbd9" text-anchor="end" >5</text><text x="1110.9" y="801.4" font-size="14" fill="#d6dbd9" text-anchor="end" >0</text><text x="1175.2" y="801.4" font-size="14" fill="#d6dbd9" text-anchor="end" textLength="22.8" lengthAdjust="spacingAndGlyphs" >904</text><text x="1247.8" y="801.4" font-size="14" fill="#d6dbd9" text-anchor="end" >1</text><text x="1300.8" y="801.4" font-size="14" fill="#d6dbd9" text-anchor="end" >1</text><text x="1439.8" y="801.4" font-size="14" fill="#d6dbd9" text-anchor="end" textLength="22.8" lengthAdjust="spacingAndGlyphs" >321</text><text x="468.0" y="823.1" font-size="14" fill="#d6dbd9" text-anchor="start" textLength="228.0" lengthAdjust="spacingAndGlyphs" >b333033f0650f1acd031517736eaeb92</text><text x="788.4" y="823.1" font-size="14" fill="#d6dbd9" text-anchor="start" textLength="64.0" lengthAdjust="spacingAndGlyphs" >10.09.2019</text><text x="867.0" y="823.1" font-size="14" fill="#d6dbd9" text-anchor="start" textLength="64.0" lengthAdjust="spacingAndGlyphs" >11.09.2019</text><text x="1005.2" y="823.1" font-size="14" fill="#d6dbd9" text-anchor="end" >3</text><text x="1110.9" y="823.1" font-size="14" fill="#d6dbd9" text-anchor="end" >0</text><text x="1175.2" y="823.1" font-size="14" fill="#d6dbd9" text-anchor="end" textLength="22.8" lengthAdjust="spacingAndGlyphs" >866</text><text x="1247.8" y="823.1" font-size="14" fill="#d6dbd9" text-anchor="end" >1</text><text x="1300.8" y="823.1" font-size="14" fill="#d6dbd9" text-anchor="end" >1</text><text x="468.0" y="844.9" font-size="14" fill="#d6dbd9" text-anchor="start" textLength="232.0" lengthAdjust="spacingAndGlyphs" >a96ddc5e3caebe64673643091dc6629a</text><text x="788.4" y="844.9" font-size="14" fill="#d6dbd9" text-anchor="start" textLength="64.0" lengthAdjust="spacingAndGlyphs" >08.09.2019</text><text x="867.0" y="844.9" font-size="14" fill="#d6dbd9" text-anchor="start" textLength="64.0" lengthAdjust="spacingAndGlyphs" >28.09.2019</text><text x="1005.2" y="844.9" font-size="14" fill="#d6dbd9" text-anchor="end" >2</text><text x="1110.9" y="844.9" font-size="14" fill="#d6dbd9" text-anchor="end" >0</text><text x="1175.2" y="844.9" font-size="14" fill="#d6dbd9" text-anchor="end" textLength="22.8" lengthAdjust="spacingAndGlyphs" >849</text><text x="1247.8" y="844.9" font-size="14" fill="#d6dbd9" text-anchor="end" >1</text><text x="1300.8" y="844.9" font-size="14" fill="#d6dbd9" text-anchor="end" >1</text><text x="468.0" y="866.6" font-size="14" fill="#d6dbd9" text-anchor="start" textLength="216.0" lengthAdjust="spacingAndGlyphs" >9ce132ea3128f4ff227df3f0404aa08c</text><line x1="717.0" y1="861.6" x2="749.5" y2="861.6" stroke="#9aa2a6" stroke-width="1" /><text x="788.4" y="866.6" font-size="14" fill="#d6dbd9" text-anchor="start" textLength="64.0" lengthAdjust="spacingAndGlyphs" >01.08.2019</text><text x="867.0" y="866.6" font-size="14" fill="#d6dbd9" text-anchor="start" textLength="64.0" lengthAdjust="spacingAndGlyphs" >05.08.2019</text><text x="1005.2" y="866.6" font-size="14" fill="#d6dbd9" text-anchor="end" >5</text><text x="1110.9" y="866.6" font-size="14" fill="#d6dbd9" text-anchor="end" >0</text><text x="1175.2" y="866.6" font-size="14" fill="#d6dbd9" text-anchor="end" textLength="22.8" lengthAdjust="spacingAndGlyphs" >903</text><text x="1247.8" y="866.6" font-size="14" fill="#d6dbd9" text-anchor="end" >1</text><text x="1300.8" y="866.6" font-size="14" fill="#d6dbd9" text-anchor="end" >1</text><text x="1439.8" y="866.6" font-size="14" fill="#d6dbd9" text-anchor="end" textLength="22.8" lengthAdjust="spacingAndGlyphs" >321</text><text x="468.0" y="887.9" font-size="14" fill="#d6dbd9" text-anchor="start" textLength="230.5" lengthAdjust="spacingAndGlyphs" >00b05e935f2916a1e7919e364854c5b9</text><line x1="717.0" y1="882.9" x2="771.5" y2="882.9" stroke="#9aa2a6" stroke-width="1" /><text x="788.4" y="887.9" font-size="14" fill="#d6dbd9" text-anchor="start" textLength="64.0" lengthAdjust="spacingAndGlyphs" >28.07.2019</text><text x="867.0" y="887.9" font-size="14" fill="#d6dbd9" text-anchor="start" textLength="64.0" lengthAdjust="spacingAndGlyphs" >29.07.2019</text><text x="1005.2" y="887.9" font-size="14" fill="#d6dbd9" text-anchor="end" >4</text><text x="1110.9" y="887.9" font-size="14" fill="#d6dbd9" text-anchor="end" >0</text><text x="1175.2" y="887.9" font-size="14" fill="#d6dbd9" text-anchor="end" textLength="22.8" lengthAdjust="spacingAndGlyphs" >910</text><text x="1247.8" y="887.9" font-size="14" fill="#d6dbd9" text-anchor="end" >1</text><text x="1300.8" y="887.9" font-size="14" fill="#d6dbd9" text-anchor="end" >1</text><text x="1439.8" y="887.9" font-size="14" fill="#d6dbd9" text-anchor="end" textLength="22.8" lengthAdjust="spacingAndGlyphs" >311</text><text x="468.0" y="906.7" font-size="13.4" fill="#e0e4e2" text-anchor="start" font-weight="bold" textLength="32.5" lengthAdjust="spacingAndGlyphs" >Total</text><text x="1005.2" y="906.7" font-size="13.4" fill="#e0e4e2" text-anchor="end" font-weight="bold" textLength="41.0" lengthAdjust="spacingAndGlyphs" >18 514</text><text x="1110.9" y="906.7" font-size="13.4" fill="#e0e4e2" text-anchor="end" font-weight="bold" textLength="62.0" lengthAdjust="spacingAndGlyphs" >5 444 205</text><text x="1247.8" y="906.7" font-size="13.4" fill="#e0e4e2" text-anchor="end" font-weight="bold" textLength="31.5" lengthAdjust="spacingAndGlyphs" >5262</text><text x="1300.8" y="906.7" font-size="13.4" fill="#e0e4e2" text-anchor="end" font-weight="bold" textLength="31.5" lengthAdjust="spacingAndGlyphs" >5262</text><text x="1374.0" y="906.7" font-size="13.4" fill="#e0e4e2" text-anchor="end" font-weight="bold" textLength="34.5" lengthAdjust="spacingAndGlyphs" >7 053</text><rect x="1451.7" y="702.0" width="9.8" height="198.0" fill="#ffffff" /><rect x="1452.5" y="735.5" width="8.2" height="13.2" fill="#c8c8c8" /><polyline points="1453.2,720 1457,715.2 1460.8,720" fill="none" stroke="#444" stroke-width="1.2"/><polyline points="1453.2,880.5 1457,885.5 1460.8,880.5" fill="none" stroke="#444" stroke-width="1.2"/><text x="1485.7" y="718.3" font-size="14" fill="#d6e6b2" text-anchor="start" textLength="38.0" lengthAdjust="spacingAndGlyphs" >Period</text><polyline points="1602,710 1607,715 1612,710" fill="none" stroke="#4f5f6e" stroke-width="1.2"/><rect x="1485.9" y="730.2" width="74.5" height="25.4" fill="none" stroke="#d0d4d8" stroke-width="1.6" /><rect x="1485.9" y="766.9" width="74.5" height="25.4" fill="none" stroke="#d0d4d8" stroke-width="1.6" /><text x="1493.0" y="747.8" font-size="12" fill="#dfe3e6" text-anchor="start" textLength="58.5" lengthAdjust="spacingAndGlyphs" >29.07.2018</text><text x="1493.0" y="784.3" font-size="12" fill="#dfe3e6" text-anchor="start" textLength="58.5" lengthAdjust="spacingAndGlyphs" >02.05.2020</text><line x1="1503" y1="818.6" x2="1541" y2="818.6" stroke="#e8eaee" stroke-width="4" stroke-linecap="round"/><line x1="1541" y1="818.6" x2="1602" y2="818.6" stroke="#6e6e6e" stroke-width="4"/><circle cx="1541.6" cy="818.6" r="14.2" fill="#ffffff" stroke="#6a6a6a" stroke-width="2.2"/><circle cx="1602.2" cy="818.6" r="14.2" fill="#ffffff" stroke="#6a6a6a" stroke-width="2.2"/>
</svg>
</body></html>
